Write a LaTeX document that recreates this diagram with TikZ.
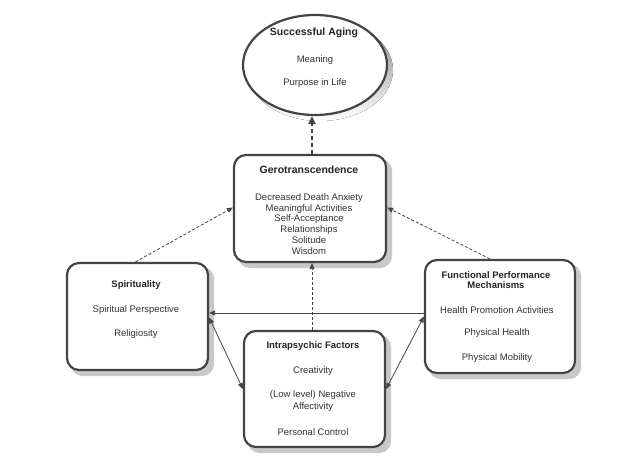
\documentclass[tikz,border=0pt]{standalone}
\usepackage{fontspec}
\setmainfont{Liberation Sans}
\usetikzlibrary{arrows.meta,shapes.geometric}
\pgfdeclarelayer{background}
\pgfsetlayers{background,main}
\definecolor{edge}{HTML}{444444}
\definecolor{txt}{HTML}{333333}
\definecolor{shade}{HTML}{C8C8C8}
\begin{document}
\begin{tikzpicture}[x=1pt,y=-1pt,
  box/.style={draw=edge, line width=2.2pt, rounded corners=12pt, fill=white, inner sep=0pt},
  oval/.style={ellipse, draw=edge, line width=2.2pt, fill=white, inner sep=0pt},
  shadowbox/.style={fill=shade, rounded corners=12pt},
  ttl/.style={font=\bfseries\fontsize{9.5}{10.5}\selectfont, text=black!85, align=center, inner sep=0pt},
  bigttl/.style={font=\bfseries\fontsize{10.5}{12}\selectfont, text=black!85, align=center, inner sep=0pt},
  itm/.style={font=\fontsize{9.5}{10.8}\selectfont, text=txt, align=center, inner sep=0pt},
  dsh/.style={draw=edge, line width=0.8pt, dash pattern=on 3pt off 2pt, -{Triangle[length=6pt,width=5pt]}},
  thickdsh/.style={draw=edge, line width=2pt, dash pattern=on 4pt off 3pt, -{Triangle[length=8pt,width=7pt]}},
  sol/.style={draw=edge, line width=0.8pt}
]
\useasboundingbox (0,0) rectangle (640,462);
% boxes
\node[oval, minimum width=144pt, minimum height=100pt] (sa) at (315,65) {};
\node[box, minimum width=152pt, minimum height=107pt] (gero) at (310,208.5) {};
\node[box, minimum width=141pt, minimum height=107pt] (spirit) at (137.5,316.5) {};
\node[box, minimum width=150pt, minimum height=113pt] (func) at (500,316.5) {};
\node[box, minimum width=141pt, minimum height=116pt] (intra) at (314.5,389) {};
% shadows
\begin{pgfonlayer}{background}
  \fill[shade] ([shift={(5,5)}]sa.center) ellipse [x radius=73pt, y radius=51pt];
  \foreach \n in {gero,spirit,func,intra}{
    \fill[shadowbox] ([shift={(5,5)}]\n.south west) rectangle ([shift={(5,5)}]\n.north east);
  }
\end{pgfonlayer}
% texts
\node[bigttl] (sat) at (314,33) {Successful Aging};
\node[itm] (sa1) at (315,60) {Meaning};
\node[itm] (sa2) at (315,83) {Purpose in Life};
\node[bigttl] (gerot) at (309,170) {Gerotranscendence};
\node[itm] (gerol) at (309,224) {Decreased Death Anxiety\\Meaningful Activities\\Self-Acceptance\\Relationships\\Solitude\\Wisdom};
\node[ttl] (spt) at (136,285) {Spirituality};
\node[itm] (sp1) at (136,310) {Spiritual Perspective};
\node[itm] (sp2) at (136,334) {Religiosity};
\node[ttl] (fut) at (496,280) {Functional Performance\\Mechanisms};
\node[itm] (fu1) at (497,310) {Health Promotion Activities};
\node[itm] (fu2) at (497,333) {Physical Health};
\node[itm] (fu3) at (497,358) {Physical Mobility};
\node[ttl] (int) at (313,346) {Intrapsychic Factors};
\node[itm] (in1) at (313,371) {Creativity};
\node[itm, font=\fontsize{9.5}{12}\selectfont] (in2) at (313,401) {(Low level) Negative\\Affectivity};
\node[itm] (in3) at (313,432) {Personal Control};
% connectors
\draw[thickdsh] ([xshift=2pt]gero.north) -- ([xshift=2pt]gero.north |- sa.south);
\draw[dsh] ([xshift=-2pt]spirit.north) -- ([yshift=1pt]gero.west);
\draw[dsh] ([xshift=-10pt]func.north) -- ([yshift=1pt]gero.east);
\draw[dsh] ([xshift=2pt]gero.south |- intra.north) -- ([xshift=2pt]gero.south);
\coordinate (hstart) at ([yshift=3.5pt]func.west);
\draw[sol, -{Triangle[length=6pt,width=5pt]}] (hstart) -- (hstart -| spirit.east);
\draw[sol, {Triangle[length=6pt,width=5pt]}-{Triangle[length=6pt,width=5pt]}] ([yshift=-1pt]spirit.east) -- (intra.west);
\draw[sol, {Triangle[length=6pt,width=5pt]}-{Triangle[length=6pt,width=5pt]}] (func.west) -- (intra.east);
\end{tikzpicture}
\end{document}
